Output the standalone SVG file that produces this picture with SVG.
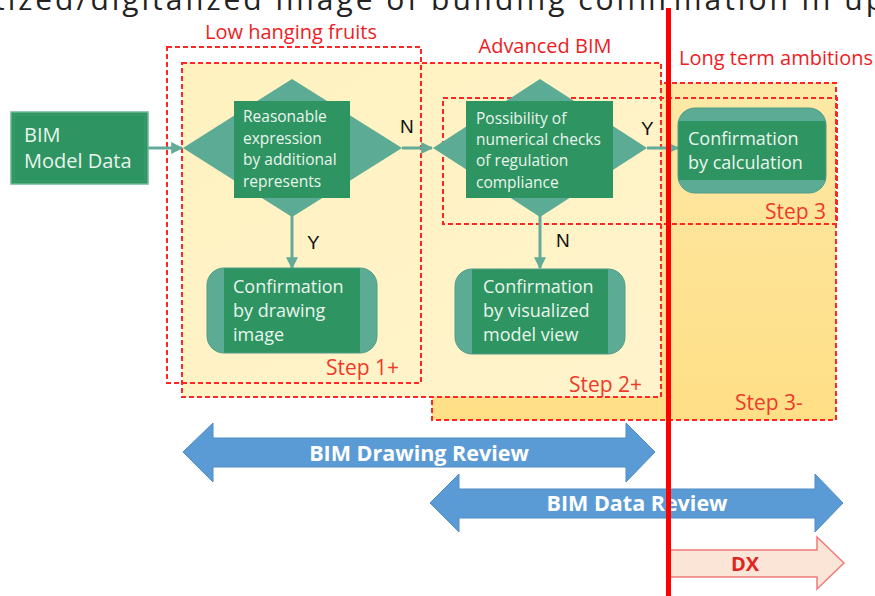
<svg xmlns="http://www.w3.org/2000/svg" width="875" height="596" viewBox="0 0 875 596">
  <defs>
    <style>
      .zone { stroke: #ff2626; stroke-width: 2; stroke-dasharray: 5 3; }
      .zlabel { font-family: "Open Sans", "Liberation Sans", sans-serif; font-size: 20px; fill: #ee1c24; }
      .step { font-family: "Open Sans", "Liberation Sans", sans-serif; font-size: 21px; fill: #ee3a2a; }
      .dia { fill: #5cab94; }
      .box { fill: #2e9462; }
      .ntext { font-family: "Open Sans", "Liberation Sans", sans-serif; font-size: 15.5px; fill: #eaf5ee; }
      .ntext2 { font-family: "Open Sans", "Liberation Sans", sans-serif; font-size: 18px; fill: #eaf5ee; }
      .yn { font-family: "Liberation Sans", "Open Sans", sans-serif; font-size: 19px; fill: #111; }
      .conn { stroke: #62ab98; stroke-width: 3; fill: none; marker-end: url(#head); }
      .band-arrow { fill: #5b9bd5; stroke: #4f8bc4; stroke-width: 1; }
      .atext { font-family: "Open Sans", "Liberation Sans", sans-serif; font-size: 21.5px; font-weight: bold; fill: #ffffff; }
    </style>
    <marker id="head" viewBox="0 0 10 10" refX="9" refY="5" markerWidth="4" markerHeight="4" orient="auto" markerUnits="strokeWidth">
      <path d="M0,0 L10,5 L0,10 z" fill="#62ab98"/>
    </marker>
    <linearGradient id="orange" x1="0" y1="0" x2="0" y2="1">
      <stop offset="0" stop-color="#fde8a6"/>
      <stop offset="1" stop-color="#ffdf86"/>
    </linearGradient>
    <linearGradient id="yellow" x1="0" y1="0" x2="1" y2="1">
      <stop offset="0" stop-color="#fff2c0"/>
      <stop offset="1" stop-color="#fff3cc"/>
    </linearGradient>
  </defs>

  <rect width="875" height="596" fill="#ffffff"/>

  <!-- slide title, running off the top edge -->
  <text x="-6" y="10" font-family="Open Sans, Liberation Sans, sans-serif" font-size="30" fill="#222" textLength="890" lengthAdjust="spacing">tized/digitalized image of building confirmation in up</text>

  <!-- zone areas -->
  <g id="zone-step3minus">
    <rect class="zone" x="432" y="83" width="404" height="337" fill="url(#orange)"/>
    <text class="step" x="735" y="410">Step 3-</text>
  </g>
  <g id="zone-step2plus">
    <rect class="zone" x="182" y="63" width="479" height="334" fill="url(#yellow)"/>
    <text class="step" x="569" y="392">Step 2+</text>
  </g>
  <g id="zone-step1plus">
    <rect class="zone" x="167" y="47" width="254" height="336" fill="none"/>
    <text class="step" x="326" y="375">Step 1+</text>
  </g>
  <g id="zone-step3">
    <rect class="zone" x="443" y="98" width="394" height="126" fill="none"/>
    <text class="step" x="765" y="219">Step 3</text>
  </g>

  <text class="zlabel" x="291" y="39" text-anchor="middle">Low hanging fruits</text>
  <text class="zlabel" x="545" y="53" text-anchor="middle">Advanced BIM</text>
  <text class="zlabel" x="776" y="65" text-anchor="middle">Long term ambitions</text>

  <!-- connectors -->
  <g id="connectors">
    <line class="conn" x1="148" y1="148" x2="182" y2="148"/>
    <line class="conn" x1="402" y1="148" x2="432" y2="148"/>
    <line class="conn" x1="647" y1="148" x2="678" y2="148"/>
    <line class="conn" x1="292" y1="216" x2="292" y2="268"/>
    <line class="conn" x1="540" y1="216" x2="540" y2="268"/>
    <text class="yn" x="400" y="133">N</text>
    <text class="yn" x="641" y="135">Y</text>
    <text class="yn" x="307" y="249">Y</text>
    <text class="yn" x="556" y="247">N</text>
  </g>

  <!-- nodes -->
  <g id="bim-model-data">
    <rect x="11" y="112" width="137" height="72" fill="#2e9462" stroke="#6cb696" stroke-width="1.5"/>
    <rect x="14" y="115" width="131" height="66" fill="none" stroke="#3a9c6c" stroke-width="1"/>
    <text x="24" y="142" font-family="Open Sans, Liberation Sans, sans-serif" font-size="20" fill="#eaf5ee">BIM</text>
    <text x="24" y="168" font-family="Open Sans, Liberation Sans, sans-serif" font-size="20" fill="#eaf5ee">Model Data</text>
  </g>

  <g id="decision-expression">
    <polygon class="dia" points="292,79 402,148 292,217 183,148"/>
    <rect class="box" x="234" y="101" width="116" height="97"/>
    <text class="ntext" x="243" y="122">Reasonable</text>
    <text class="ntext" x="243" y="144">expression</text>
    <text class="ntext" x="243" y="165">by additional</text>
    <text class="ntext" x="243" y="187">represents</text>
  </g>

  <g id="decision-numerical">
    <polygon class="dia" points="540,79 647,148 540,217 433,148"/>
    <rect class="box" x="466" y="101" width="147" height="97"/>
    <text class="ntext" x="476" y="124">Possibility of</text>
    <text class="ntext" x="476" y="145">numerical checks</text>
    <text class="ntext" x="476" y="166">of regulation</text>
    <text class="ntext" x="476" y="188">compliance</text>
  </g>

  <g id="confirm-calculation">
    <clipPath id="clip-calc"><rect x="678" y="108" width="148" height="85" rx="17"/></clipPath>
    <g clip-path="url(#clip-calc)">
      <rect x="678" y="108" width="148" height="85" fill="#5cab94"/>
      <rect class="box" x="678" y="121" width="148" height="59"/>
    </g>
    <rect x="678" y="108" width="148" height="85" rx="17" fill="none" stroke="#4e9c84" stroke-width="1"/>
    <text class="ntext2" x="688" y="145">Confirmation</text>
    <text class="ntext2" x="688" y="169">by calculation</text>
  </g>

  <g id="confirm-drawing">
    <clipPath id="clip-draw"><rect x="207" y="268" width="170" height="85" rx="17"/></clipPath>
    <g clip-path="url(#clip-draw)">
      <rect x="207" y="268" width="170" height="85" fill="#5cab94"/>
      <rect class="box" x="224" y="268" width="136" height="85"/>
    </g>
    <rect x="207" y="268" width="170" height="85" rx="17" fill="none" stroke="#4e9c84" stroke-width="1"/>
    <text class="ntext2" x="233" y="293">Confirmation</text>
    <text class="ntext2" x="233" y="317">by drawing</text>
    <text class="ntext2" x="233" y="341">image</text>
  </g>

  <g id="confirm-model-view">
    <clipPath id="clip-view"><rect x="455" y="269" width="170" height="85" rx="17"/></clipPath>
    <g clip-path="url(#clip-view)">
      <rect x="455" y="269" width="170" height="85" fill="#5cab94"/>
      <rect class="box" x="472" y="269" width="136" height="85"/>
    </g>
    <rect x="455" y="269" width="170" height="85" rx="17" fill="none" stroke="#4e9c84" stroke-width="1"/>
    <text class="ntext2" x="483" y="293">Confirmation</text>
    <text class="ntext2" x="483" y="317">by visualized</text>
    <text class="ntext2" x="483" y="341">model view</text>
  </g>

  <!-- review ranges -->
  <g id="bim-drawing-review">
    <polygon class="band-arrow" points="183,452 213,423 213,438 626,438 626,423 655,452 626,482 626,467 213,467 213,482"/>
    <text class="atext" x="419" y="461" text-anchor="middle">BIM Drawing Review</text>
  </g>
  <g id="bim-data-review">
    <polygon class="band-arrow" points="430,503 459,474 459,489 815,489 815,474 843,503 815,532 815,518 459,518 459,532"/>
    <text class="atext" x="637" y="511" text-anchor="middle">BIM Data Review</text>
  </g>
  <g id="dx">
    <polygon points="670,550 817,550 817,537 844,563 817,589 817,577 670,577" fill="#fbe5d6" stroke="#f07b7b" stroke-width="1.5"/>
    <text x="745" y="571" text-anchor="middle" font-family="Open Sans, Liberation Sans, sans-serif" font-size="20" font-weight="bold" fill="#e02424">DX</text>
  </g>

  <!-- current boundary -->
  <rect x="666" y="8" width="5" height="588" fill="#ff0000"/>
</svg>
